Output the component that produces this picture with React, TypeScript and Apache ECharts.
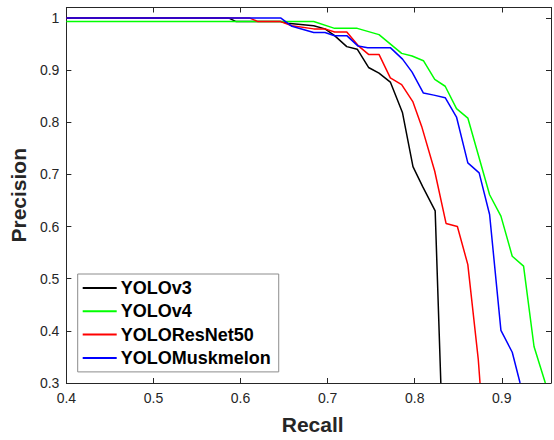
import React, { useEffect, useRef } from "react";
import * as echarts from "echarts";

const seriesNames = ["YOLOv3", "YOLOv4", "YOLOResNet50", "YOLOMuskmelon"];
const seriesColors = ["#000000", "#00ff00", "#ff0000", "#0000ff"];

const recallV3 = [0.4, 0.586, 0.595, 0.646, 0.654, 0.684, 0.697, 0.708, 0.722, 0.734, 0.747, 0.759, 0.772, 0.786, 0.798, 0.809, 0.8235, 0.83];
const precisionV3 = [1, 1, 0.993, 0.993, 0.99, 0.985, 0.979, 0.966, 0.945, 0.94, 0.905, 0.894, 0.877, 0.818, 0.715, 0.677, 0.63, 0.3];

const recallV4 = [0.4, 0.684, 0.708, 0.734, 0.759, 0.785, 0.797, 0.81, 0.823, 0.835, 0.848, 0.861, 0.886, 0.899, 0.912, 0.925, 0.937, 0.95];
const precisionV4 = [0.993, 0.993, 0.98, 0.98, 0.968, 0.932, 0.927, 0.918, 0.882, 0.869, 0.826, 0.808, 0.661, 0.62, 0.543, 0.524, 0.37, 0.3];

const recallRes = [0.4, 0.61, 0.62, 0.646, 0.659, 0.684, 0.697, 0.708, 0.722, 0.735, 0.747, 0.759, 0.772, 0.785, 0.798, 0.808, 0.823, 0.836, 0.849, 0.861, 0.873, 0.875];
const precisionRes = [1, 1, 0.993, 0.993, 0.985, 0.979, 0.979, 0.973, 0.973, 0.947, 0.93, 0.93, 0.885, 0.872, 0.839, 0.792, 0.706, 0.606, 0.6, 0.527, 0.345, 0.3];

const recallMusk = [0.4, 0.646, 0.659, 0.684, 0.697, 0.708, 0.722, 0.735, 0.746, 0.772, 0.786, 0.797, 0.81, 0.822, 0.835, 0.848, 0.861, 0.874, 0.886, 0.899, 0.912, 0.921];
const precisionMusk = [1, 1, 0.984, 0.972, 0.972, 0.966, 0.966, 0.946, 0.943, 0.943, 0.921, 0.896, 0.856, 0.852, 0.847, 0.81, 0.722, 0.703, 0.623, 0.401, 0.359, 0.3];

const xMin = 0.4;
const xMax = 0.9565;
const yMin = 0.3;
const yMax = 1.02;
const tickStep = 0.1;

const FONT = '"Liberation Sans", Arial, Helvetica, sans-serif';
const AXIS_COLOR = "#262626";

function tickFormatter(v: number): string {
  const r = Math.round(v * 10);
  if (Math.abs(v * 10 - r) > 1e-6) return "";
  return String(r / 10);
}

export default function App() {
  const ref = useRef<HTMLDivElement>(null);
  useEffect(() => {
    if (!ref.current) return;
    const chart = echarts.init(ref.current, undefined, { renderer: "svg" });
    const recalls = [recallV3, recallV4, recallRes, recallMusk];
    const precisions = [precisionV3, precisionV4, precisionRes, precisionMusk];

    const baseAxisLine = { show: true, lineStyle: { color: AXIS_COLOR, width: 1 } };
    const baseTick = { show: true, inside: true, length: 5, lineStyle: { color: AXIS_COLOR, width: 1 } };

    chart.setOption({
      animation: false,
      backgroundColor: "#ffffff",
      textStyle: { fontFamily: FONT },
      grid: { left: 62.5, right: 0, top: 7.5, bottom: 53.3, containLabel: false },
      legend: {
        orient: "vertical",
        left: 77.7,
        top: 274,
        padding: [5, 8, 5, 5],
        itemGap: 5.3,
        itemWidth: 34,
        itemHeight: 2,
        icon: "rect",
        borderColor: "#8c8c8c",
        borderWidth: 1,
        backgroundColor: "#ffffff",
        data: seriesNames,
        textStyle: { fontFamily: FONT, fontSize: 18, fontWeight: "bold", color: "#000000", lineHeight: 18, padding: [0, 0, 0, -1] },
      },
      xAxis: [
        {
          type: "value",
          min: xMin,
          max: xMax,
          interval: tickStep,
          position: "bottom",
          axisLine: baseAxisLine,
          axisTick: baseTick,
          splitLine: { show: false },
          axisLabel: { color: AXIS_COLOR, fontSize: 14, fontFamily: FONT, margin: 8, formatter: tickFormatter },
          name: "Recall",
          nameLocation: "middle",
          nameGap: 31,
          nameTextStyle: { fontSize: 21, fontWeight: "bold", color: AXIS_COLOR, fontFamily: FONT, padding: [0, 0, 0, 8] },
        },
        {
          type: "value",
          min: xMin,
          max: xMax,
          interval: tickStep,
          position: "top",
          axisLine: baseAxisLine,
          axisTick: baseTick,
          splitLine: { show: false },
          axisLabel: { show: false },
        },
      ],
      yAxis: [
        {
          type: "value",
          min: yMin,
          max: yMax,
          interval: tickStep,
          position: "left",
          axisLine: baseAxisLine,
          axisTick: baseTick,
          splitLine: { show: false },
          axisLabel: { color: AXIS_COLOR, fontSize: 14, fontFamily: FONT, margin: 7, formatter: tickFormatter },
          name: "Precision",
          nameLocation: "middle",
          nameGap: 36,
          nameRotate: 90,
          nameTextStyle: { fontSize: 21, fontWeight: "bold", color: AXIS_COLOR, fontFamily: FONT },
        },
        {
          type: "value",
          min: yMin,
          max: yMax,
          interval: tickStep,
          position: "right",
          axisLine: baseAxisLine,
          axisTick: baseTick,
          splitLine: { show: false },
          axisLabel: { show: false },
        },
      ],
      series: seriesNames.map((name, i) => ({
        name,
        type: "line",
        xAxisIndex: 0,
        yAxisIndex: 0,
        symbol: "none",
        clip: true,
        color: seriesColors[i],
        lineStyle: { color: seriesColors[i], width: 1.5 },
        data: recalls[i].map((r, j) => [r, precisions[i][j]]),
      })),
    });
    return () => chart.dispose();
  }, []);
  return <div ref={ref} style={{ position: "fixed", left: 0, top: 0, width: 554, height: 440 }} />;
}
